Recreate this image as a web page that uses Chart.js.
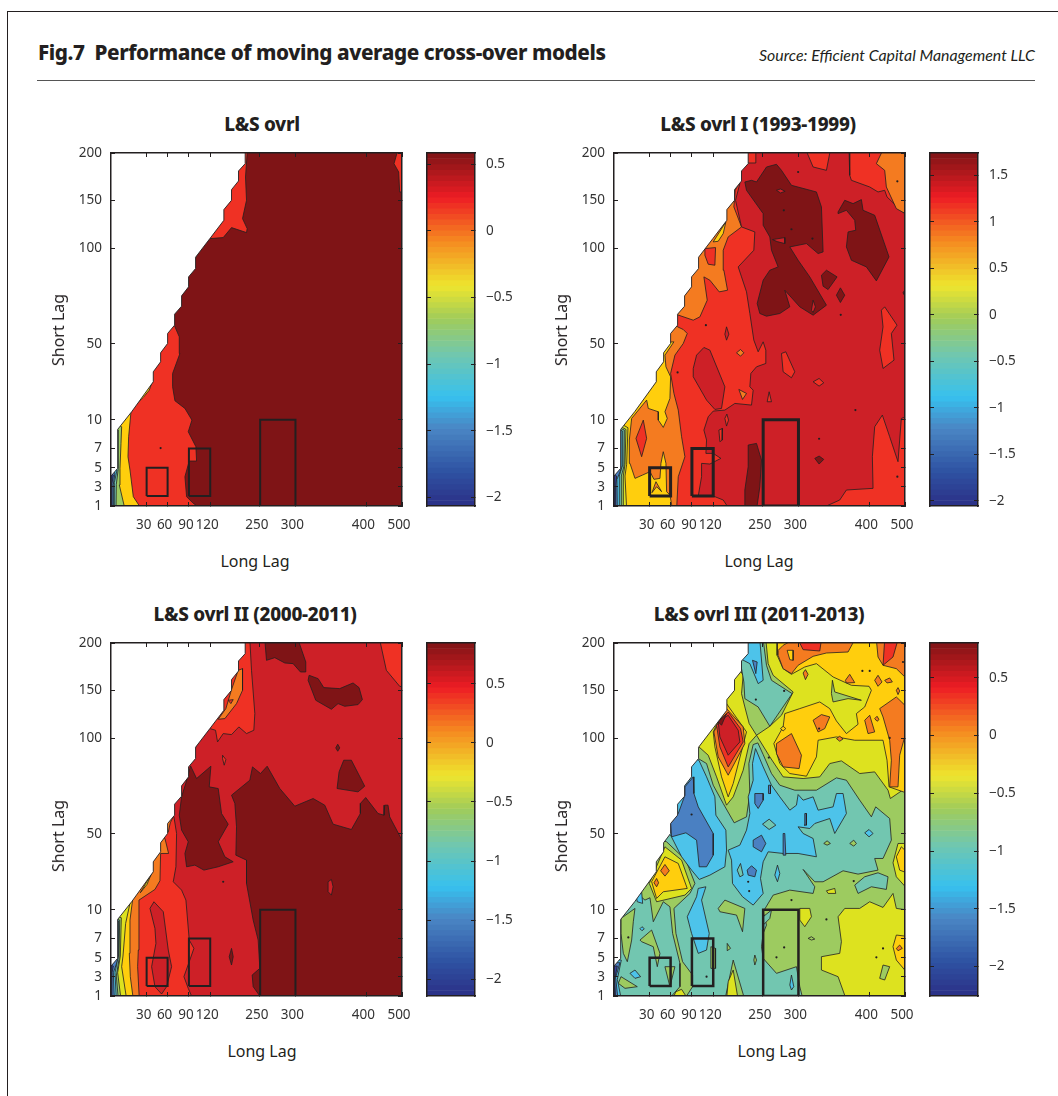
<!DOCTYPE html>
<html>
<head>
<meta charset="utf-8">
<script src="https://cdn.jsdelivr.net/npm/chart.js@4"></script>
<style>
html,body{margin:0;padding:0;background:#fff;overflow:hidden}
#page{position:relative;width:1058px;height:1096px;font-family:"Noto Sans",sans-serif;color:#231f20}
#frame{position:absolute;left:7px;top:11px;right:-5px;bottom:-5px;border:1px solid #231f20}
#rule{position:absolute;left:37px;top:80px;width:998px;height:1px;background:#555}
canvas{position:absolute}
.txt{position:absolute;white-space:nowrap;transform:translate(-50%,-50%)}
</style>
</head>
<body>
<div id="page">
<div id="frame"></div>
<div class="txt" id="head" style="left:38px;top:52px;transform:translateY(-50%);font:800 20.7px 'Noto Sans';letter-spacing:-.42px">Fig.7&nbsp; Performance of moving average cross-over models</div>
<div class="txt" id="src" style="left:1035px;top:54px;transform:translate(-100%,-50%);font:italic 15.9px Lato">Source: Efficient Capital Management LLC</div>
<div id="rule"></div>
</div>
<script>
// axes are in lag-grid units (the original lags are spaced unevenly)
const longLagPos = [107, 170, 234, 298, 447, 554, 767, 874];
const longLagLabels = ['30', '60', '90', '120', '250', '300', '400', '500'];
const shortLagPos = [0, 58, 115, 173, 259, 487, 774, 917, 1060];
const shortLagLabels = ['1', '3', '5', '7', '10', '50', '100', '150', '200'];
const titles = ['L&S ovrl', 'L&S ovrl I (1993-1999)', 'L&S ovrl II (2000-2011)', 'L&S ovrl III (2011-2013)'];

const barTicks = [
  [-2, -1.5, -1, -0.5, 0, 0.5],
  [-2, -1.5, -1, -0.5, 0, 0.5, 1, 1.5],
  [-2, -1.5, -1, -0.5, 0, 0.5],
  [-2, -1.5, -1, -0.5, 0, 0.5],
];
const barRange = [[-2.065, 0.585], [-2.057, 1.74], [-2.14, 0.844], [-2.254, 0.8]];

// tested parameter windows: long lag from/to, short lag from/to
const windows = [[107, 170, 30, 115], [234, 298, 30, 173], [448, 554, 0, 259]];

// edge of the tested grid (short lag must stay under long lag)
const gridEdge = [0,0, 0,90, 20,113, 20,230, 62,283, 127,373, 127,403, 149,433, 149,460, 170,488, 170,518, 191,543, 191,576, 212,600, 212,631, 233,658, 233,688, 254,713, 254,747, 297,803, 339,858, 339,890, 362,918, 362,950, 383,976, 383,1006, 403,1028, 403,1070, -30,1070, -30,-20];

const ovrlLayers = [
  ['navy', [-20,-20, 900,-20, 900,1100, -20,1100]],
  ['blue', [3,-10, 3,68, 7,93, -20,110, -20,1100, 900,1100, 900,-10]],
  ['cyan', [9,-10, 7,65, 12,100, -20,120, -20,1100, 900,1100, 900,-10]],
  ['teal', [12,-10, 10,70, 18,108, -20,125, -20,1100, 900,1100, 900,-10]],
  ['green', [15,-10, 16,65, 22,113, 22,228, -20,240, -20,1100, 900,1100, 900,-10]],
  ['gold', [42,-10, 25,63, 27,113, 30,188, 32,238, -20,260, -20,1100, 900,1100, 900,-10]],
  ['red', [92,-10, 67,28, 57,108, 51,148, 53,208, 60,283, 67,298, 97,326, 115,348, 122,368, 100,420, -20,1100, 900,1100, 900,-10]],
  ['dark', [277,-12, 247,8, 227,28, 222,88, 235,135, 257,135, 255,178, 232,223, 243,258, 222,293, 192,316, 185,358, 185,398, 207,458, 205,508, 190,543, 177,558, 282,813, 297,803, 337,806, 362,836, 407,821, 409,833, 395,863, 407,918, 404,988, 409,1060, 409,1100, 900,1100, 900,-12]],
  ['red', [862,1070, 850,1028, 864,1003, 867,943, 900,943, 900,1070]],
];
const ovrlSpecks = [[149,174]];

const ovrl1Layers = [
  ['navy', [-20,-20, 900,-20, 900,1100, -20,1100]],
  ['blue', [6,-10, 5,60, 8,90, -20,100, -20,1100, 900,1100, 900,-10]],
  ['cyan', [10,-10, 9,80, 21,110, 21,225, -20,240, -20,1100, 900,1100, 900,-10]],
  ['teal', [16,-10, 16,90, 25,120, 26,225, -20,245, -20,1100, 900,1100, 900,-10]],
  ['green', [22,-10, 22,90, 30,120, 31,228, -20,250, -20,1100, 900,1100, 900,-10]],
  ['yellow', [30,-10, 28,90, 33,125, 36,230, -20,260, -20,1100, 900,1100, 900,-10]],
  ['gold', [38,-10, 33,90, 38,125, 42,235, -20,270, -20,1100, 900,1100, 900,-10]],
  ['orange', [176,-12, 168,33, 158,43, 156,128, 148,163, 141,128, 138,83, 120,80, 108,103, 86,93, 63,83, 48,128, 46,198, 53,263, 98,318, 103,293, 133,283, 133,258, 148,236, 160,263, 153,283, 168,323, 170,388, 156,418, 153,453, 180,493, 108,488, 108,1100, 900,1100, 900,-12]],
  ['orange', [114,40, 126,73, 143,43, 128,58]],
  ['gold', [298,793, 336,853, 328,818, 313,795]],
  ['red', [66,203, 88,258, 98,203, 83,148]],
  ['red', [188,-12, 193,88, 213,148, 203,208, 193,288, 180,338, 170,398, 183,453, 208,488, 220,518, 208,530, 191,538, 178,553, 191,574, 238,558, 258,568, 280,618, 270,688, 288,678, 316,643, 341,648, 330,708, 328,768, 343,808, 383,838, 360,898, 364,948, 378,973, 368,988, 348,1100, 900,1100, 900,-12]],
  ['red', [273,773, 305,776, 303,723, 283,726, 273,753]],
  ['midred', [348,-12, 328,18, 298,30, 253,30, 263,88, 263,128, 288,126, 321,143, 298,158, 276,158, 278,198, 270,228, 283,268, 298,285, 333,288, 363,308, 413,303, 418,348, 408,358, 411,398, 428,418, 456,428, 456,468, 448,493, 433,463, 420,498, 408,578, 398,643, 383,688, 373,718, 420,768, 423,823, 383,838, 365,918, 378,968, 370,980, 395,1040, 403,1030, 426,1030, 426,1070, 576,1070, 598,1018, 638,1008, 650,1070, 706,1070, 708,993, 713,978, 768,958, 793,943, 813,948, 820,928, 883,868, 883,270, 863,263, 853,133, 828,208, 806,273, 783,238, 776,148, 778,53, 698,48, 678,18, 638,0, 638,-12]],
  ['orange', [788,1028, 808,1070, 884,1070, 884,873, 848,893, 818,958, 813,1008]],
  ['midred', [238,413, 248,453, 270,476, 288,468, 333,358, 323,293, 303,290, 278,318, 238,388]],
  ['midred', [338,538, 345,516, 338,498, 333,516]],
  ['orange', [368,460, 380,470, 390,460, 380,450]],
  ['orange', [375,350, 398,338, 386,320]],
  ['red', [333,263, 339,276, 344,258, 338,240]],
  ['red', [315,228, 326,233, 325,198, 318,193]],
  ['red', [460,313, 466,343, 473,313]],
  ['red', [503,458, 516,463, 543,403, 533,385, 508,403]],
  ['red', [598,373, 616,383, 630,370, 616,360]],
  ['red', [803,588, 813,598, 850,543, 833,518, 841,438, 808,413, 798,468, 808,538]],
  ['dark', [393,973, 413,978, 428,973, 458,1018, 488,1026, 503,1008, 533,963, 608,943, 623,898, 628,763, 613,758, 578,788, 528,778, 553,738, 588,688, 638,603, 598,573, 558,598, 513,648, 528,598, 498,578, 458,570, 438,578, 430,608, 448,678, 468,708, 493,718, 473,768, 468,808, 448,843, 448,878, 398,948]],
  ['midred', [488,948, 500,952, 514,945, 500,940]],
  ['midred', [476,800, 513,806, 513,788, 490,794]],
  ['midred', [593,588, 598,618, 605,598, 598,581]],
  ['dark', [673,883, 693,918, 718,908, 743,920, 748,888, 783,873, 826,748, 788,676, 758,718, 713,738, 698,778, 703,823, 726,828, 723,858, 698,888, 673,878]],
  ['dark', [623,693, 638,708, 670,688, 643,650, 628,660]],
  ['dark', [680,655, 693,633, 680,611, 668,633]],
  ['dark', [403,183, 428,188, 443,138, 438,58, 428,-12, 393,-12, 393,48, 403,118]],
  ['dark', [603,143, 616,150, 630,140, 616,126]],
  ['dark', [880,660, 868,640, 880,620]],
];
const ovrl1Specks = [[553,1003],[510,888],[533,831],[596,803],[191,401],[851,975],[851,88],[725,288],[681,574],[276,543],[616,202]];

const ovrl2Layers = [
  ['navy', [-20,-20, 900,-20, 900,1100, -20,1100]],
  ['blue', [3,-10, 3,70, 7,90, -20,100, -20,1100, 900,1100, 900,-10]],
  ['cyan', [10,-10, 7,70, 21,110, 21,225, -20,235, -20,1100, 900,1100, 900,-10]],
  ['teal', [16,-10, 12,70, 22,120, 23,225, -20,240, -20,1100, 900,1100, 900,-10]],
  ['green', [22,-10, 16,60, 24,110, 26,228, -20,245, -20,1100, 900,1100, 900,-10]],
  ['yellow', [30,-10, 20,70, 28,120, 31,235, -20,250, -20,1100, 900,1100, 900,-10]],
  ['gold', [47,-10, 32,88, 36,120, 44,218, 58,283, -20,300, -20,1100, 900,1100, 900,-10]],
  ['orange', [67,-10, 58,58, 55,128, 57,228, 65,290, -20,310, -20,1100, 900,1100, 900,-10]],
  ['yellow', [88,310, 122,368, 108,335]],
  ['red', [85,-10, 80,88, 82,138, 84,288, 132,320, 147,346, 149,428, 173,428, 162,473, 150,480, 150,495, 172,492, 178,520, 189,543, 165,560, -20,1100, 900,1100, 900,-10]],
  ['orange', [322,831, 345,863, 362,920, 382,978, 395,983, 395,918, 377,878, 342,833]],
  ['red', [352,888, 367,890, 360,878]],
  ['midred', [247,-12, 232,23, 219,58, 235,103, 249,143, 235,168, 225,288, 212,318, 187,343, 195,388, 197,488, 189,538, 175,555, 282,813, 297,803, 314,798, 320,763, 337,788, 362,785, 384,808, 407,788, 429,798, 432,848, 422,978, 417,1070, 900,1070, 900,-12]],
  ['red', [807,1070, 827,978, 867,930, 884,926, 884,1070]],
  ['midred', [117,263, 129,283, 157,253, 172,138, 182,88, 167,28, 152,6, 132,28, 122,88, 135,158, 132,203]],
  ['red', [335,723, 345,710, 340,693, 335,713]],
  ['dark', [462,1070, 467,1008, 492,1016, 522,1000, 547,998, 569,973, 585,973, 585,1003, 562,1070]],
  ['dark', [592,948, 595,963, 622,953, 639,926, 687,923, 727,940, 745,926, 755,890, 742,875, 702,870, 682,878, 662,861, 615,888]],
  ['dark', [681,756, 687,745, 681,735, 675,745]],
  ['dark', [699,708, 722,708, 762,630, 742,613, 679,623, 685,673]],
  ['dark', [239,691, 257,653, 300,690, 295,628, 322,623, 332,548, 352,516, 322,463, 342,418, 367,403, 322,388, 279,378, 252,393, 227,388, 222,428, 232,463, 212,498, 205,543, 212,598, 225,640]],
  ['dark', [362,603, 372,578, 377,508, 375,423, 407,408, 407,338, 427,228, 442,168, 447,83, 424,63, 427,28, 447,0, 447,-12, 900,-12, 900,468, 874,468, 837,538, 832,573, 822,573, 820,543, 802,548, 765,596, 749,578, 749,548, 722,500, 667,516, 642,573, 607,593, 552,570, 507,623, 469,690, 449,668, 425,688, 417,648]],
  ['midred', [652,343, 662,350, 667,328, 662,303, 652,313]],
  ['dark', [362,143, 367,118, 362,93, 355,118]],
];
const ovrl2Specks = [[337,343]];

const ovrl3Layers = [
  ['teal', [-20,-20, 900,-20, 900,1100, -20,1100]],
  ['green', [253,713, 278,698, 298,633, 328,578, 361,520, 398,538, 408,608, 405,698, 418,755, 432,760, 448,725, 473,668, 498,633, 543,618, 608,618, 668,655, 698,648, 738,588, 773,538, 786,568, 828,533, 833,468, 808,413, 783,413, 793,378, 733,366, 688,376, 628,343, 603,343, 568,380, 603,328, 598,308, 528,318, 478,303, 448,253, 458,213, 448,188, 443,148, 448,113, 488,68, 548,88, 558,28, 568,-12, 900,-12, 900,1070, 238,1070, 238,718]],
  ['teal', [723,333, 753,358, 793,370, 823,358, 818,320, 773,328, 733,308]],
  ['green', [21,233, 63,263, 58,223, 53,168, 40,103, 28,128, 21,188]],
  ['green', [63,313, 93,288, 108,295, 118,223, 148,283, 168,268, 176,188, 198,98, 198,28, 173,0, 218,0, 236,28, 236,63, 206,103, 186,188, 180,263, 228,308, 243,338, 216,408, 158,463, 138,468]],
  ['green', [78,168, 113,198, 138,128, 130,88, 118,148, 83,163]],
  ['green', [21,58, 70,28, 33,23, 13,38]],
  ['green', [153,88, 183,88, 168,28]],
  ['green', [333,-12, 358,108, 393,-12]],
  ['yellow', [338,-12, 343,43, 358,78, 373,-12]],
  ['green', [313,263, 333,288, 393,263, 386,193, 368,243, 318,253]],
  ['green', [291,148, 305,143, 305,83, 291,83]],
  ['green', [340,158, 350,143, 340,136]],
  ['green', [423,123, 428,108, 423,93, 420,108]],
  ['yellow', [255,748, 283,723, 308,658, 338,573, 358,598, 388,678, 406,758, 428,783, 468,718, 508,658, 568,653, 618,658, 648,698, 683,706, 738,668, 783,673, 823,618, 830,593, 874,623, 900,623, 900,1070, 240,1070, 240,750]],
  ['yellow', [673,238, 693,263, 738,263, 768,283, 808,266, 838,308, 848,263, 883,258, 883,-12, 698,-12, 673,58, 623,78, 623,118, 678,128, 683,163]],
  ['yellow', [838,400, 853,458, 884,458, 884,318, 848,358]],
  ['green', [798,53, 808,93, 828,88, 813,48]],
  ['gold', [838,148, 848,183, 890,178, 890,58, 848,108]],
  ['orange', [848,143, 858,153, 866,143, 853,136]],
  ['gold', [848,418, 863,448, 884,428, 884,368, 858,378]],
  ['green', [456,1070, 463,998, 478,963, 538,913, 503,843, 468,810, 428,783, 406,818, 393,868, 383,908, 388,963, 375,985, 395,1070]],
  ['teal', [390,943, 393,893, 433,868, 468,810, 535,908, 473,948, 458,993, 448,1070, 395,1070, 380,1000]],
  ['cyan', [404,1070, 438,1070, 448,948, 433,938, 408,998, 385,1010]],
  ['blue', [416,1008, 430,1003, 426,968]],
  ['gold', [490,1070, 490,1023, 508,983, 533,966, 573,988, 608,998, 658,958, 713,933, 766,930, 773,918, 753,868, 728,848, 733,816, 698,788, 668,826, 648,863, 618,883, 558,863, 513,848, 508,808, 480,758, 498,698, 528,668, 578,660, 608,718, 613,768, 668,778, 723,768, 808,768, 820,708, 826,628, 883,608, 890,608, 890,1075, 490,1075]],
  ['gold', [298,793, 338,878, 398,793, 358,638, 343,598, 323,658, 303,748]],
  ['orange', [300,793, 338,863, 388,808, 393,758, 343,663, 313,718]],
  ['red', [308,813, 343,853, 380,803, 388,763, 343,688, 318,748]],
  ['midred', [313,823, 343,843, 373,798, 378,763, 343,723, 318,778]],
  ['dark', [313,823, 338,848, 323,813]],
  ['green', [656,948, 663,913, 743,888, 703,893, 658,883, 653,908]],
  ['orange', [493,1038, 508,1053, 538,1070, 723,1070, 703,1033, 638,1030, 598,1020, 553,993, 533,968, 508,983, 493,1023]],
  ['gold', [520,1038, 538,1038, 538,1008, 528,1010]],
  ['red', [553,1070, 623,1070, 618,1036, 568,1040]],
  ['orange', [788,1070, 793,1018, 808,993, 848,983, 884,948, 884,1070]],
  ['red', [813,1070, 853,1070, 838,1018, 808,993]],
  ['orange', [695,948, 708,966, 723,941, 698,940]],
  ['orange', [783,948, 793,963, 805,943, 793,930]],
  ['orange', [813,948, 828,955, 836,943, 820,940]],
  ['orange', [568,970, 575,980, 583,966, 575,950]],
  ['orange', [848,918, 853,926, 858,916, 853,905]],
  ['orange', [798,863, 848,898, 884,863, 884,818, 858,723, 853,628, 828,628, 833,708, 828,768, 808,838]],
  ['orange', [753,828, 768,843, 783,793, 763,788]],
  ['orange', [598,828, 623,845, 648,838, 633,803, 613,793]],
  ['orange', [488,758, 533,788, 563,723, 556,683, 508,688, 488,728]],
  ['orange', [668,773, 678,780, 688,772, 678,765]],
  ['orange', [783,833, 790,840, 796,830, 790,825]],
  ['yellow', [106,338, 153,448, 203,408, 233,323, 213,303, 128,283]],
  ['gold', [113,343, 153,418, 193,398, 220,323, 148,313, 128,293]],
  ['orange', [140,376, 153,395, 166,376, 153,360]],
  ['orange', [120,340, 128,353, 134,340, 128,328]],
  ['yellow', [558,263, 588,263, 593,238, 573,208, 558,228]],
  ['yellow', [638,316, 663,323, 666,308, 643,308]],
  ['yellow', [186,13, 203,20, 216,0, 180,0]],
  ['gold', [500,803, 508,810, 516,803, 508,796]],
  ['cyan', [255,708, 278,658, 303,598, 306,543, 336,498, 338,438, 333,388, 288,363, 256,350, 233,378, 203,418, 170,483, 148,498, 228,718]],
  ['blue', [238,658, 240,608, 253,568, 298,488, 298,423, 278,388, 256,388, 248,468, 216,490, 173,478, 170,518, 193,548, 213,603, 213,628]],
  ['cyan', [425,743, 448,688, 473,633, 498,598, 528,558, 548,573, 553,605, 568,588, 598,598, 613,558, 658,568, 668,608, 688,608, 698,548, 663,488, 648,533, 603,518, 588,503, 553,508, 568,488, 598,473, 608,418, 553,428, 508,428, 463,433, 448,403, 440,353, 448,308, 418,273, 386,298, 356,338, 353,408, 343,438, 378,453, 398,498, 408,548, 403,598, 418,648, 416,698]],
  ['blue', [423,608, 448,608, 448,588, 433,563, 423,578]],
  ['blue', [418,468, 443,483, 456,458, 443,433, 418,448]],
  ['blue', [400,378, 413,391, 428,378, 423,358, 403,363]],
  ['blue', [508,488, 513,488, 516,423, 508,423]],
  ['blue', [573,548, 578,548, 578,513, 571,513]],
  ['blue', [464,633, 470,633, 470,608, 464,608]],
  ['teal', [446,516, 466,531, 486,513, 466,500]],
  ['teal', [370,378, 380,398, 388,363, 378,358]],
  ['cyan', [253,323, 276,328, 263,288, 286,188, 278,138, 253,128, 233,188, 220,238, 248,298]],
  ['cyan', [48,68, 63,78, 80,58, 63,53]],
  ['cyan', [66,303, 83,313, 86,278, 70,283]],
  ['cyan', [483,363, 491,393, 498,368, 491,343]],
  ['cyan', [528,33, 533,63, 540,28, 533,18]],
  ['cyan', [753,490, 766,500, 778,488, 766,478]],
  ['cyan', [78,202, 84,208, 91,202, 84,196]],
  ['teal', [448,238, 473,258, 468,233, 448,213]],
  ['green', [630,458, 640,466, 650,458, 640,453]],
  ['green', [708,458, 720,468, 728,458, 720,450]],
  ['green', [583,173, 593,178, 603,171, 593,168]],
  ['cyan', [-10,-10, 22,-10, 10,50, 22,108, -10,110]],
  ['blue', [-10,-10, 12,-10, 5,55, 18,100, -10,100]],
  ['navy', [-10,-10, 5,-10, 2,50, 10,90, -10,90]],
];
const ovrl3Specks = [[426,890],[511,916],[616,803],[828,775],[465,716],[233,545],[403,343],[406,315],[720,345],[533,288],[511,146],[488,116],[788,116],[278,58],[808,143],[638,230],[43,176],[746,976],[768,976],[868,1003]];

const bandColors = {navy:'#33419b', blue:'#4a80c2', cyan:'#4dc3ea', teal:'#72c6b0', green:'#9dcb60', yellow:'#dde21f', gold:'#ffce0d', orange:'#f47b20', red:'#ef3124', midred:'#cd2027', dark:'#7f1416'};
// colour bar ramp, bottom to top
const rampStops = ['#2b2f86', '#2f53a3', '#4a86c4', '#37c0ee', '#71c7ae', '#a0cc5a', '#eee52e', '#f58a20', '#ed1c24', '#7f1416'];
const rampAt = [0, 0.1, 0.22, 0.31, 0.43, 0.53, 0.625, 0.75, 0.875, 1];
const barBands = 64;

const ink = '#231f20';
const tickFont = {family: "'Noto Sans'", size: 13.5};
const plots = [[111, 153], [614, 153], [111, 643], [614, 643]];
const barOffset = [316, 316, 316, 316];
const boxWidths = [2, 3, 2, 2.5];
const titleAt = [[262, 124], [758, 124], [255, 614], [759, 614]];
const longAt = [[255, 561], [759, 561], [262, 1051], [772, 1051]];
const shortAt = [[58, 330], [561, 330], [58, 836], [561, 836]];

function pts(flat) {
  const out = [];
  for (let i = 0; i < flat.length; i += 2) out.push({x: flat[i], y: flat[i + 1]});
  out.push(out[0]);
  return out;
}

function addCanvas(l, t, w, h) {
  const c = document.createElement('canvas');
  c.width = w; c.height = h;
  c.style.left = l + 'px'; c.style.top = t + 'px';
  c.style.width = w + 'px'; c.style.height = h + 'px';
  document.getElementById('page').appendChild(c);
  return c;
}

function addText(str, at, css) {
  const d = document.createElement('div');
  d.className = 'txt';
  d.textContent = str;
  d.style.cssText = 'left:' + at[0] + 'px;top:' + at[1] + 'px;' + css;
  document.getElementById('page').appendChild(d);
}

// fixed axis size, and no extra room for labels that hang past the plot
function sized(prop, n) {
  return s => {
    s[prop] = n;
    s.paddingTop = s.paddingBottom = s.paddingLeft = s.paddingRight = 0;
  };
}

function tickAxis(pos, extra) {
  return Object.assign({
    type: 'linear',
    afterBuildTicks: s => { s.ticks = pos.map(v => ({value: v})); },
    grid: {drawOnChartArea: false, tickLength: -4, tickColor: ink, tickWidth: 1, z: 1},
    border: {color: ink, width: 1.5, z: 2},
    ticks: {display: false},
  }, extra);
}

function contourChart(i, layers, specks) {
  const [px, py] = plots[i];
  const sets = layers.map(l => ({
    data: pts(l[1]), showLine: true, pointRadius: 0, tension: 0, fill: 'shape',
    backgroundColor: bandColors[l[0]], borderColor: ink, borderWidth: 0.8,
  }));
  sets.push({data: specks.map(p => ({x: p[0], y: p[1]})), showLine: false, pointRadius: 1.1, pointBackgroundColor: ink, pointBorderWidth: 0});
  sets.push({data: pts(gridEdge), showLine: true, pointRadius: 0, tension: 0, fill: 'shape', backgroundColor: '#fff', borderColor: ink, borderWidth: 0.9});
  windows.forEach(w => {
    sets.push({
      data: pts([w[0], w[2], w[1], w[2], w[1], w[3], w[0], w[3]]),
      showLine: true, pointRadius: 0, tension: 0, fill: false, borderColor: ink, borderWidth: boxWidths[i], borderJoinStyle: 'miter',
    });
  });
  sets.reverse(); // first dataset is painted last in Chart.js
  new Chart(addCanvas(px - 50, py - 12, 359, 395), {
    type: 'scatter',
    data: {datasets: sets},
    options: {
      responsive: false, animation: false,
      layout: {padding: 0, autoPadding: false},
      plugins: {legend: {display: false}, tooltip: {enabled: false}},
      scales: {
        x: tickAxis(longLagPos, {
          position: 'bottom', min: 0, max: 874, afterFit: sized('height', 30),
          ticks: {display: true, autoSkip: false, maxRotation: 0, font: tickFont, color: '#333', padding: 15, labelOffset: -3,
            callback: v => longLagLabels[longLagPos.indexOf(v)]},
        }),
        y: tickAxis(shortLagPos, {
          position: 'left', min: 0, max: 1060, afterFit: sized('width', 50),
          ticks: {display: true, autoSkip: false, font: tickFont, color: '#333', padding: 13,
            callback: v => shortLagLabels[shortLagPos.indexOf(v)]},
        }),
        xTop: tickAxis(longLagPos, {axis: 'x', position: 'top', min: 0, max: 874, afterFit: sized('height', 12)}),
        yRight: tickAxis(shortLagPos, {axis: 'y', position: 'right', min: 0, max: 1060, afterFit: sized('width', 18)}),
      },
    },
  });
}

function rampColor(f) {
  let k = 0;
  while (k < rampAt.length - 2 && f > rampAt[k + 1]) k++;
  const t = (f - rampAt[k]) / (rampAt[k + 1] - rampAt[k]);
  const hex = (s, o) => parseInt(s.substr(o, 2), 16);
  const mix = o => Math.round(hex(rampStops[k], o) + (hex(rampStops[k + 1], o) - hex(rampStops[k], o)) * t);
  return 'rgb(' + mix(1) + ',' + mix(3) + ',' + mix(5) + ')';
}

function barChart(i) {
  const [px, py] = plots[i];
  const [lo, hi] = barRange[i];
  const sets = [];
  for (let b = barBands - 1; b >= 0; b--) {
    const a = lo + (hi - lo) * b / barBands, z = lo + (hi - lo) * (b + 1) / barBands;
    sets.push({data: [[a, z]], backgroundColor: rampColor((b + 0.5) / barBands), borderWidth: 0, grouped: false, barPercentage: 1, categoryPercentage: 1, yAxisID: 'y'});
  }
  new Chart(addCanvas(px + barOffset[i] - 10, py - 12, 120, 395), {
    type: 'bar',
    data: {labels: [''], datasets: sets},
    options: {
      responsive: false, animation: false,
      layout: {padding: 0, autoPadding: false},
      plugins: {legend: {display: false}, tooltip: {enabled: false}},
      scales: {
        x: {position: 'bottom', afterFit: sized('height', 30), grid: {display: false}, ticks: {display: false}, border: {color: ink, width: 1.5, z: 2}},
        xTop: {axis: 'x', type: 'category', labels: [''], position: 'top', afterFit: sized('height', 12), grid: {display: false}, ticks: {display: false}, border: {color: ink, width: 1.5, z: 2}},
        y: tickAxis(barTicks[i], {
          position: 'right', min: lo, max: hi, afterFit: sized('width', 62),
          ticks: {display: true, autoSkip: false, font: tickFont, color: '#333', padding: 15, callback: v => String(v).replace('-', '\u2212')},
        }),
        yLeft: tickAxis(barTicks[i], {axis: 'y', position: 'left', min: lo, max: hi, afterFit: sized('width', 10)}),
      },
    },
  });
}

[ovrlLayers, ovrl1Layers, ovrl2Layers, ovrl3Layers].forEach((layers, i) => {
  contourChart(i, layers, [ovrlSpecks, ovrl1Specks, ovrl2Specks, ovrl3Specks][i]);
  barChart(i);
  addText(titles[i], titleAt[i], "font:800 18.9px 'Noto Sans';letter-spacing:-.3px");
  addText('Long Lag', longAt[i], "font:16px 'Noto Sans'");
  addText('Short Lag', shortAt[i], "font:16px 'Noto Sans';transform:translate(-50%,-50%) rotate(-90deg)");
});
</script>
</body>
</html>
